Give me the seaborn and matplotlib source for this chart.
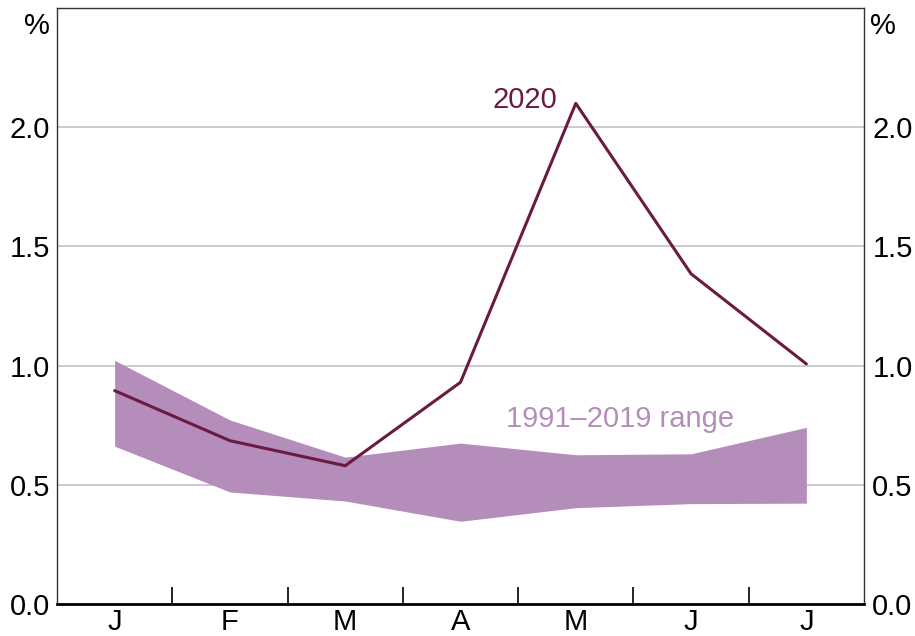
import numpy as np
import pandas as pd
import matplotlib
matplotlib.use("Agg")
import matplotlib.pyplot as plt
import seaborn as sns

# ── Data ──────────────────────────────────────────────────
MONTHS     = ["J", "F", "M", "A", "M", "J", "J"]
RATE_2020  = [0.895, 0.685, 0.580, 0.930, 2.10, 1.385, 1.007]
RANGE_HIGH = [1.022, 0.772, 0.616, 0.675, 0.626, 0.630, 0.741]
RANGE_LOW  = [0.662, 0.470, 0.432, 0.347, 0.404, 0.421, 0.423]

# ── Style ─────────────────────────────────────────────────
LINE = "#6B1A42"
BAND = "#B48DBB"
GRID = "#BDBDBD"
FS   = 21

sns.set_theme(style="white")
plt.rcParams["font.family"] = ["Liberation Sans", "DejaVu Sans"]
plt.rcParams["text.color"] = "black"
plt.rcParams["xtick.color"] = "black"
plt.rcParams["ytick.color"] = "black"

df = pd.DataFrame({
    "pos": np.arange(len(MONTHS)),
    "month": MONTHS,
    "y2020": RATE_2020,
    "hi": RANGE_HIGH,
    "lo": RANGE_LOW,
})

fig = plt.figure(figsize=(9.15, 6.36), dpi=100)
ax = fig.add_axes([57 / 915, 32 / 636, 807 / 915, 596 / 636])

ax.fill_between(df["pos"], df["lo"], df["hi"], color=BAND, linewidth=0, zorder=2)
sns.lineplot(data=df, x="pos", y="y2020", color=LINE, linewidth=2.2, ax=ax, zorder=3)

ax.set_xlim(-0.5, len(MONTHS) - 0.5)
ax.set_ylim(0, 2.5)
yt = [0.0, 0.5, 1.0, 1.5, 2.0]
ax.set_yticks(yt)
ax.set_yticklabels([f"{v:.1f}" for v in yt], fontsize=FS)
ax.yaxis.grid(True, color=GRID, linewidth=1.1, zorder=0)
ax.set_axisbelow(True)
ax.tick_params(axis="y", length=0, pad=5)

ax.set_xticks(df["pos"])
ax.set_xticklabels(MONTHS, fontsize=FS)
ax.set_xticks(np.arange(len(MONTHS) - 1) + 0.5, minor=True)
ax.tick_params(axis="x", which="major", length=0, pad=3)
ax.tick_params(axis="x", which="minor", direction="in", length=12, width=1.2,
               color="black", bottom=True)
ax.set_xlabel("")
ax.set_ylabel("")

for side in ["top", "left", "right"]:
    ax.spines[side].set_color("#333333")
    ax.spines[side].set_linewidth(1.0)
ax.spines["bottom"].set_color("black")
ax.spines["bottom"].set_linewidth(2.0)

ax2 = ax.twinx()
ax2.set_ylim(ax.get_ylim())
ax2.set_yticks(yt)
ax2.set_yticklabels([f"{v:.1f}" for v in yt], fontsize=FS)
ax2.tick_params(axis="y", length=0, pad=6)
for s in ax2.spines.values():
    s.set_visible(False)

ax.text(-0.009, 0.97, "%", transform=ax.transAxes, ha="right", va="center", fontsize=FS)
ax.text(1.008, 0.97, "%", transform=ax.transAxes, ha="left", va="center", fontsize=FS)

ax.text(3.555, 2.115, "2020", color=LINE, ha="center", va="center", fontsize=FS)
ax.text(4.384, 0.775, "1991–2019 range", color=BAND, ha="center", va="center", fontsize=FS)

fig.savefig("out.png", dpi=100)
plt.close(fig)
